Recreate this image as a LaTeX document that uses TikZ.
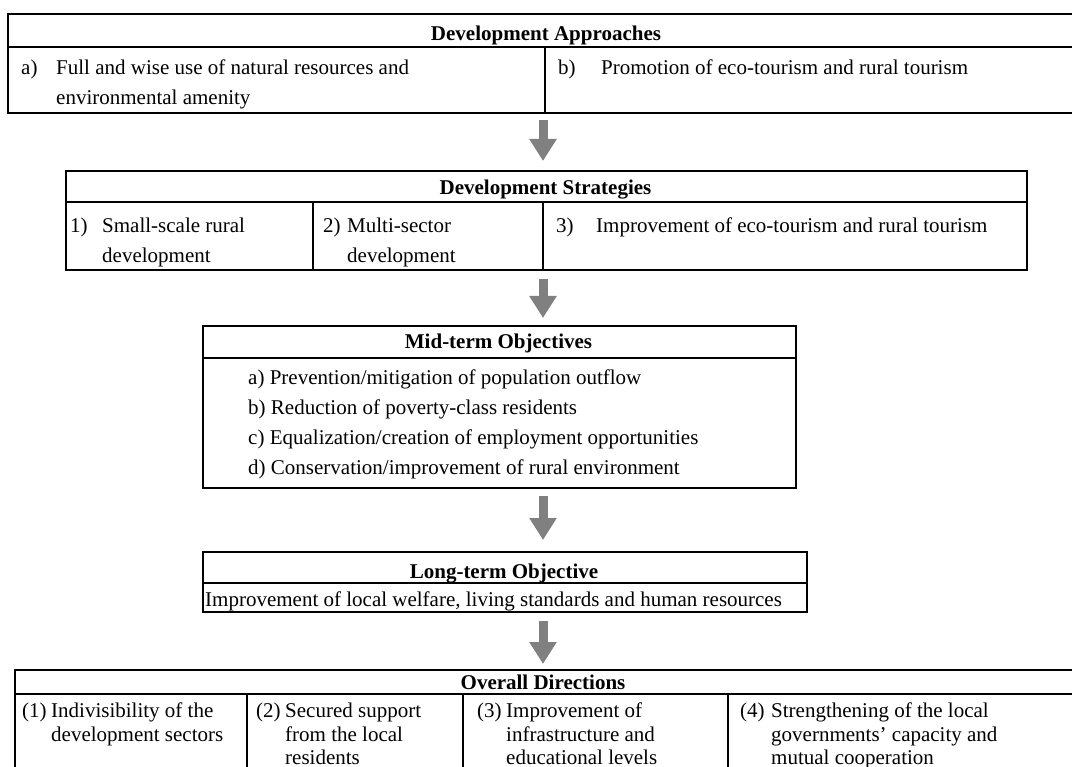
\documentclass[tikz,border=0pt]{standalone}
\usepackage{fontspec}
\setmainfont{Liberation Serif}
\usetikzlibrary{arrows.meta,calc}
\definecolor{arrowgray}{HTML}{808080}
\begin{document}
\begin{tikzpicture}[x=1pt,y=-1pt,
  box/.style={draw=black,line width=2pt,inner sep=0pt,anchor=north west},
  rule/.style={line width=2pt},
  hd/.style={font=\fontsize{21}{25}\selectfont\bfseries,anchor=base,inner sep=0pt},
  tx/.style={font=\fontsize{21}{25}\selectfont,anchor=base west,inner sep=0pt},
  flow/.style={draw=arrowgray,line width=9pt,-{Triangle[width=26pt,length=22pt]}}]
\useasboundingbox (0,0) rectangle (1072,767);
\clip (0,0) rectangle (1072,767);
\coordinate (ax) at (543,0);

% ---- Development Approaches
\node[box,minimum width=1090pt,minimum height=99pt] (T1) at (7,13) {};
\draw[rule] (7,47) -- (1100,47);
\draw[rule] (545,47) -- (545,112);
\node[hd] (t1h) at (546,41) {Development Approaches};
\node[tx] (t1a) at (21,75) {a)};
\node[tx] (t1a1) at (56,75) {Full and wise use of natural resources and};
\node[tx] (t1a2) at (56,105) {environmental amenity};
\node[tx] (t1b) at (558,75) {b)};
\node[tx] (t1b1) at (601,75) {Promotion of eco-tourism and rural tourism};

% ---- Development Strategies
\node[box,minimum width=961pt,minimum height=99pt] (T2) at (65,170) {};
\draw[rule] (65,202) -- (1026,202);
\draw[rule] (313,202) -- (313,269);
\draw[rule] (543,202) -- (543,269);
\node[hd] (t2h) at (545.5,195) {Development Strategies};
\node[tx] (t2a) at (70,233) {1)};
\node[tx] (t2a1) at (102,233) {Small-scale rural};
\node[tx] (t2a2) at (102,263) {development};
\node[tx] (t2b) at (323,233) {2)};
\node[tx] (t2b1) at (347,233) {Multi-sector};
\node[tx] (t2b2) at (347,263) {development};
\node[tx] (t2c) at (556,233) {3)};
\node[tx] (t2c1) at (596,233) {Improvement of eco-tourism and rural tourism};

% ---- Mid-term Objectives
\node[box,minimum width=593pt,minimum height=162pt] (T3) at (202,325) {};
\draw[rule] (202,358) -- (795,358);
\node[hd] (t3h) at (498.5,349) {Mid-term Objectives};
\node[tx] (t3a) at (248,385) {a) Prevention/mitigation of population outflow};
\node[tx] (t3b) at (248,415) {b) Reduction of poverty-class residents};
\node[tx] (t3c) at (248,445) {c) Equalization/creation of employment opportunities};
\node[tx] (t3d) at (248,475) {d) Conservation/improvement of rural environment};

% ---- Long-term Objective
\node[box,minimum width=604pt,minimum height=60pt] (T4) at (202,551) {};
\draw[rule] (202,583) -- (806,583);
\node[hd] (t4h) at (504,578) {Long-term Objective};
\node[tx] (t4a) at (205,606) {Improvement of local welfare, living standards and human resources};

% ---- Overall Directions
\node[box,minimum width=1080pt,minimum height=200pt] (T5) at (14,669) {};
\draw[rule] (14,694) -- (1100,694);
\draw[rule] (247,694) -- (247,800);
\draw[rule] (463,694) -- (463,800);
\draw[rule] (728,694) -- (728,800);
\node[hd] (t5h) at (543,689) {Overall Directions};
\node[tx] (t5a) at (22,717) {(1)};
\node[tx] (t5a1) at (51,717) {Indivisibility of the};
\node[tx] (t5a2) at (51,741) {development sectors};
\node[tx] (t5b) at (256,717) {(2)};
\node[tx] (t5b1) at (285,717) {Secured support};
\node[tx] (t5b2) at (285,741) {from the local};
\node[tx] (t5b3) at (285,764) {residents};
\node[tx] (t5c) at (477,717) {(3)};
\node[tx] (t5c1) at (506,717) {Improvement of};
\node[tx] (t5c2) at (506,741) {infrastructure and};
\node[tx] (t5c3) at (506,764) {educational levels};
\node[tx] (t5d) at (740,717) {(4)};
\node[tx] (t5d1) at (771,717) {Strengthening of the local};
\node[tx] (t5d2) at (771,741) {governments’ capacity and};
\node[tx] (t5d3) at (771,764) {mutual cooperation};

% ---- arrows
\draw[flow] ($(T1.south -| ax)+(0,6)$) -- ($(T2.north -| ax)+(0,-9)$);
\draw[flow] ($(T2.south -| ax)+(0,8)$) -- ($(T3.north -| ax)+(0,-7)$);
\draw[flow] ($(T3.south -| ax)+(0,7)$) -- ($(T4.north -| ax)+(0,-11)$);
\draw[flow] ($(T4.south -| ax)+(0,8)$) -- ($(T5.north -| ax)+(0,-5)$);
\end{tikzpicture}
\end{document}
